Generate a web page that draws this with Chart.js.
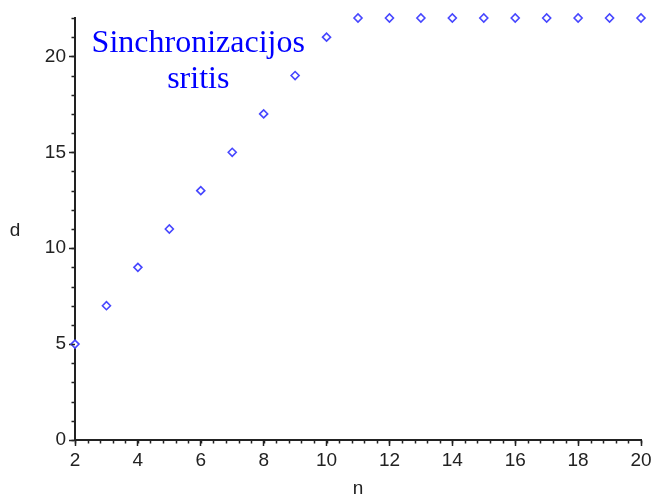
<!DOCTYPE html>
<html>
<head>
<meta charset="utf-8">
<script src="https://cdn.jsdelivr.net/npm/chart.js@4"></script>
<style>
  body { margin: 0; background: #fff; }
  #wrap { width: 664px; height: 497px; }
</style>
</head>
<body>
<div id="wrap"><canvas id="chart" width="664" height="497"></canvas></div>
<script>
const nValues = [2, 3, 4, 5, 6, 7, 8, 9, 10, 11, 12, 13, 14, 15, 16, 17, 18, 19, 20]
const dValues = [5, 7, 9, 11, 13, 15, 17, 19, 21, 22, 22, 22, 22, 22, 22, 22, 22, 22, 22]
const noteLines = ['Sinchronizacijos', 'sritis']
const xTitle = 'n'
const yTitle = 'd'

const points = nValues.map((n, i) => ({x: n, y: dValues[i]}))

const axisColor = '#222'
const tickFont = {family: 'Liberation Sans', size: 19}

// small ticks, the big ones come from chart.js itself
const minorTicks = {
    id: 'minorTicks',
    afterDraw(chart) {
        const ctx = chart.ctx
        const x = chart.scales.x
        const y = chart.scales.y
        ctx.save()
        ctx.strokeStyle = axisColor
        ctx.lineWidth = 1.5
        ctx.beginPath()
        for (let k = 0; k <= 45; k++) {
            const px = Math.round(x.getPixelForValue(2 + k * 0.4)) + 0.5
            ctx.moveTo(px, y.bottom)
            ctx.lineTo(px, y.bottom + 3.5)
        }
        for (let v = 0; v <= 22; v++) {
            const py = Math.round(y.getPixelForValue(v)) + 0.5
            ctx.moveTo(x.left, py)
            ctx.lineTo(x.left - 3.5, py)
        }
        ctx.stroke()

        // axis titles, upright like the original
        ctx.fillStyle = axisColor
        ctx.font = '19px "Liberation Sans"'
        ctx.textAlign = 'center'
        ctx.textBaseline = 'middle'
        ctx.fillText(yTitle, 15, (chart.chartArea.top + chart.chartArea.bottom) / 2 + 2)
        ctx.fillText(xTitle, (chart.chartArea.left + chart.chartArea.right) / 2, y.bottom + 49)

        // blue note
        ctx.fillStyle = '#0000ff'
        ctx.font = '32px "Liberation Serif"'
        ctx.textBaseline = 'alphabetic'
        const cx = x.getPixelForValue(5.92)
        const cy = y.getPixelForValue(20.25)
        noteLines.forEach((line, i) => ctx.fillText(line, cx, cy + i * 36))
        ctx.restore()
    }
}

new Chart(document.getElementById('chart'), {
    type: 'scatter',
    data: {
        datasets: [{
            data: points,
            pointStyle: 'rectRot',
            pointRadius: 4,
            pointBorderWidth: 1.6,
            borderColor: '#4646ff',
            backgroundColor: '#ffffff',
            clip: false
        }]
    },
    options: {
        responsive: false,
        animation: false,
        events: [],
        layout: {padding: {top: 18, right: 23, left: 0, bottom: 0}},
        plugins: {legend: {display: false}, tooltip: {enabled: false}},
        scales: {
            x: {
                type: 'linear',
                min: 2, max: 20,
                afterFit: (s) => { s.height = 57 },
                border: {color: axisColor, width: 2},
                grid: {drawOnChartArea: false, tickLength: 6, tickColor: axisColor, tickWidth: 1.5},
                ticks: {stepSize: 2, color: axisColor, font: tickFont, padding: 3, maxRotation: 0}
            },
            y: {
                type: 'linear',
                min: 0, max: 22,
                afterFit: (s) => { s.width = 75 },
                border: {color: axisColor, width: 2},
                grid: {drawOnChartArea: false, tickLength: 6, tickColor: axisColor, tickWidth: 1.5},
                ticks: {stepSize: 5, includeBounds: false, color: axisColor, font: tickFont, padding: 3}
            }
        }
    },
    plugins: [minorTicks]
})
</script>
</body>
</html>
